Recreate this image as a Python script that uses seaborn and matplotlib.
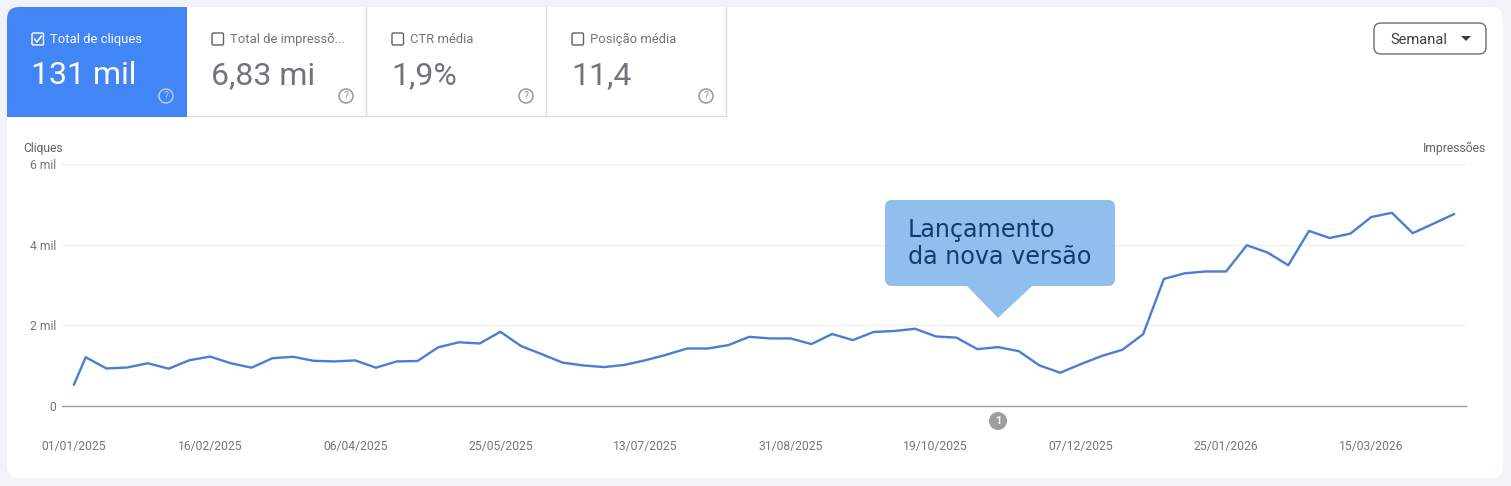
import pandas as pd
import matplotlib
matplotlib.use("Agg")
import matplotlib.pyplot as plt
import matplotlib.dates as mdates
import seaborn as sns
from matplotlib.patches import FancyBboxPatch, Rectangle, Circle, Polygon

# semanas (a primeira e parcial)
dates = [
    "2025-01-01", "2025-01-05", "2025-01-12", "2025-01-19", "2025-01-26",
    "2025-02-02", "2025-02-09", "2025-02-16", "2025-02-23",
    "2025-03-02", "2025-03-09", "2025-03-16", "2025-03-23", "2025-03-30",
    "2025-04-06", "2025-04-13", "2025-04-20", "2025-04-27",
    "2025-05-04", "2025-05-11", "2025-05-18", "2025-05-25",
    "2025-06-01", "2025-06-08", "2025-06-15", "2025-06-22", "2025-06-29",
    "2025-07-06", "2025-07-13", "2025-07-20", "2025-07-27",
    "2025-08-03", "2025-08-10", "2025-08-17", "2025-08-24", "2025-08-31",
    "2025-09-07", "2025-09-14", "2025-09-21", "2025-09-28",
    "2025-10-05", "2025-10-12", "2025-10-19", "2025-10-26",
    "2025-11-02", "2025-11-09", "2025-11-16", "2025-11-23", "2025-11-30",
    "2025-12-07", "2025-12-14", "2025-12-21", "2025-12-28",
    "2026-01-04", "2026-01-11", "2026-01-18", "2026-01-25",
    "2026-02-01", "2026-02-08", "2026-02-15", "2026-02-22",
    "2026-03-01", "2026-03-08", "2026-03-15", "2026-03-22", "2026-03-29",
    "2026-04-05", "2026-04-12",
]
clicks = [
    523, 1210, 930, 955, 1060, 925, 1135, 1225, 1060, 950, 1185, 1220,
    1120, 1105, 1130, 950, 1105, 1115, 1455, 1580, 1550, 1840, 1485, 1285,
    1075, 1005, 965, 1020, 1135, 1270, 1425, 1425, 1510, 1715, 1675, 1675,
    1535, 1785, 1635, 1835, 1860, 1915, 1725, 1695, 1410, 1460, 1360, 1005,
    825, 1040, 1240, 1395, 1780, 3150, 3290, 3335, 3335, 3985, 3805, 3490,
    4340, 4165, 4275, 4685, 4790, 4285, 4520, 4760,
]
tick_dates = ["2025-01-01", "2025-02-16", "2025-04-06", "2025-05-25", "2025-07-13",
              "2025-08-31", "2025-10-19", "2025-12-07", "2026-01-25", "2026-03-15"]
y_ticks = [0, 2000, 4000, 6000]
y_labels = ["0", "2 mil", "4 mil", "6 mil"]
tile_names = ["Total de cliques", "Total de impressõ...", "CTR média", "Posição média"]
tile_values = ["131 mil", "6,83 mi", "1,9%", "11,4"]

W, H = 1511, 486
BLUE = "#4285f4"
GREY = "#5f6368"

sns.set_theme(style="white")
plt.rcParams["font.family"] = ["Roboto", "DejaVu Sans"]

fig = plt.figure(figsize=(W / 100, H / 100), dpi=100, facecolor="#f1f3f8")

# fundo em pixels
bg = fig.add_axes([0, 0, 1, 1], zorder=0)
bg.set_xlim(0, W)
bg.set_ylim(H, 0)
bg.axis("off")

card = FancyBboxPatch((7, 7), 1496, 471, boxstyle="round,pad=0,rounding_size=12",
                      fc="white", ec="none")
bg.add_patch(card)

# cartoes de cima
for i, (name, value) in enumerate(zip(tile_names, tile_values)):
    x0 = 7 + 180 * i
    if i == 0:
        tile = Rectangle((x0, 7), 180, 110, fc=BLUE, ec="none")
        bg.add_patch(tile)
        tile.set_clip_path(card)
        fg, name_col, val_col, q_col = "white", "white", "white", "#b9d2fb"
    else:
        fg, name_col, val_col, q_col = "#5f6368", "#70757a", "#70757a", "#8a8f94"
        bg.plot([x0 + 180 - 1.5] * 2, [7, 116], color="#dadce0", lw=1)
    bg.add_patch(FancyBboxPatch((x0 + 25, 33), 11.5, 12, boxstyle="round,pad=0,rounding_size=1.5",
                                fc="none", ec=fg, lw=1))
    if i == 0:
        bg.plot([x0 + 27.5, x0 + 30, x0 + 34.5], [39, 42, 36], color="white", lw=1.2)
    bg.text(x0 + 43, 39.5, name, color=name_col, fontsize=9.4, va="center", ha="left")
    bg.text(x0 + 24, 76, value, color=val_col, fontsize=23, va="center", ha="left")
    bg.add_patch(Circle((x0 + 159, 96), 7, fc="none", ec=q_col, lw=1))
    bg.text(x0 + 159, 96, "?", color=q_col, fontsize=7.5, va="center", ha="center")
bg.plot([187, 725], [116.5, 116.5], color="#dadce0", lw=1)

# botao Semanal
bg.add_patch(FancyBboxPatch((1374, 23), 112, 31, boxstyle="round,pad=0,rounding_size=7",
                            fc="white", ec="#6a6e73", lw=1))
bg.text(1390, 40, "Semanal", color="#3c4043", fontsize=10.6, va="center", ha="left")
bg.add_patch(Polygon([(1461, 36), (1471, 36), (1466, 41)], fc="#3c4043", ec="none"))

bg.text(23, 148, "Cliques", color=GREY, fontsize=8.7, va="center", ha="left")
bg.text(1486, 148, "Impressões", color=GREY, fontsize=8.7, va="center", ha="right")

# grafico
ax = fig.add_axes([62 / W, 1 - 406 / H, (1466 - 62) / W, (406 - 164) / H], zorder=1)
ax.patch.set_alpha(0)
df = pd.DataFrame({"date": pd.to_datetime(dates), "clicks": clicks})
sns.lineplot(data=df, x="date", y="clicks", ax=ax, color="#4a7dd4", linewidth=1.7)

ax.set_xlim(pd.Timestamp("2024-12-28"), pd.Timestamp("2026-04-16"))
ax.set_ylim(0, 6000)
ax.set_xlabel("")
ax.set_ylabel("")
ax.set_xticks(pd.to_datetime(tick_dates))
ax.xaxis.set_major_formatter(mdates.DateFormatter("%d/%m/%Y"))
ax.set_yticks(y_ticks)
ax.set_yticklabels(y_labels)
ax.tick_params(axis="x", length=0, pad=24.5, labelsize=8.75, labelcolor="#757575")
ax.tick_params(axis="y", length=0, pad=4.5, labelsize=8.75, labelcolor="#757575")
ax.grid(axis="y", color="#eceef0", lw=1)
ax.set_axisbelow(True)
sns.despine(ax=ax, left=True, top=True, right=True)
ax.spines["bottom"].set_color("#9aa0a6")
ax.spines["bottom"].set_linewidth(1)

# balao por cima de tudo
top = fig.add_axes([0, 0, 1, 1], zorder=2)
top.set_xlim(0, W)
top.set_ylim(H, 0)
top.axis("off")
top.patch.set_alpha(0)
top.add_patch(FancyBboxPatch((885, 200), 230, 86, boxstyle="round,pad=0,rounding_size=7",
                             fc="#90bfee", ec="none"))
top.add_patch(Polygon([(966, 285), (1033, 285), (998, 318)], fc="#90bfee", ec="none"))
top.text(908, 243.5, "Lançamento\nda nova versão", color="#0f3c6e", fontsize=17.2,
         family="DejaVu Sans", va="center", ha="left", linespacing=1.17)

# marcador 1
top.add_patch(Circle((998, 421), 9, fc="#9e9e9e", ec="none"))
top.text(998, 421, "1", color="white", fontsize=8, fontweight="bold", va="center", ha="center")

fig.savefig("out.png", dpi=100, facecolor=fig.get_facecolor())
